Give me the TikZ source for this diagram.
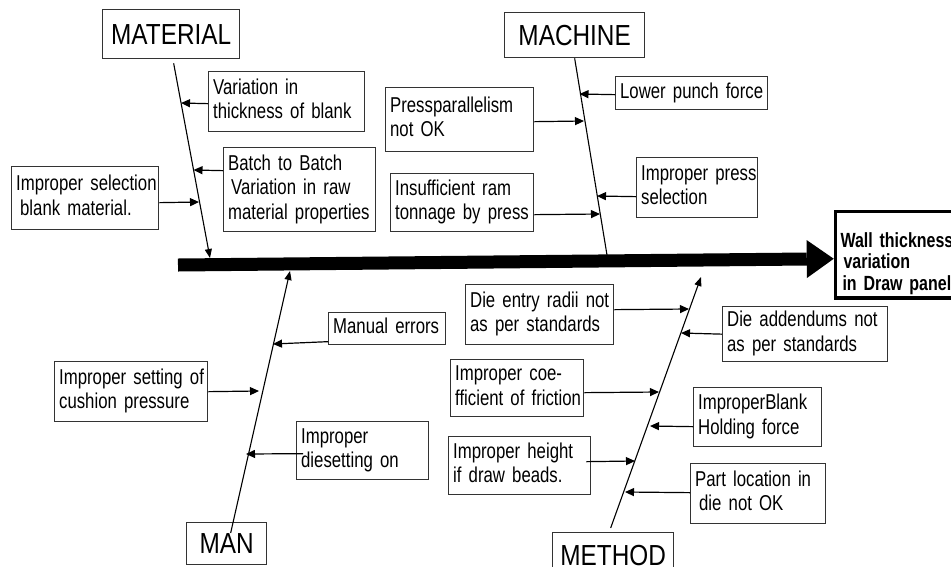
\documentclass[tikz,border=0pt]{standalone}
\usepackage{fontspec}
\usetikzlibrary{arrows.meta}
\newfontfamily\nrw[FakeStretch=0.78]{Liberation Sans}
\newfontfamily\nrwt[FakeStretch=0.84]{Liberation Sans}
\newcommand\cfont{\nrw\fontsize{21.5}{24.5}\selectfont}
\newcommand\tfont{\nrwt\fontsize{29}{34}\selectfont}
\newcommand\efont{\nrw\bfseries\fontsize{20.5}{21.5}\selectfont}
\newcommand\bxt[1]{\begin{tabular}{@{}l@{}}#1\end{tabular}}
\begin{document}
\begin{tikzpicture}[x=1pt,y=-1pt,
  cbox/.style={draw=black!80, line width=1.3pt, anchor=north west, inner xsep=4.5pt, inner ysep=0pt, align=left, font=\cfont},
  tbox/.style={draw=black!80, line width=1.3pt, anchor=north west, inner sep=0pt, font=\tfont},
  effbox/.style={draw=black, line width=3.5pt, anchor=north west, inner xsep=3.5pt, inner ysep=0pt, align=left, font=\efont},
  bone/.style={line width=1.1pt},
  bonearrow/.style={bone, -{Triangle[length=9pt,width=7pt]}},
  ca/.style={line width=1.2pt, -{Triangle[length=9pt,width=8pt]}},
  spine/.style={line width=13pt, -{Triangle[length=27pt,width=38pt,line width=0pt]}}]
\useasboundingbox (0,0) rectangle (951,566);
\fill[white] (0,0) rectangle (951,566);

% category titles
\node[tbox, minimum width=137pt, minimum height=49pt] (MAT) at (102,9) {MATERIAL};
\node[tbox, minimum width=140pt, minimum height=45pt] (MAC) at (504,12) {MACHINE};
\node[tbox, minimum width=80pt, minimum height=42pt] (MAN) at (186,522) {MAN};
\node[tbox, minimum width=121pt, minimum height=45pt] (MET) at (552,532) {METHOD};

% effect
\node[effbox, minimum width=140pt, minimum height=86.5pt, text width=130pt] (EFF) at (833.75,209.75) {\bxt{\rule{0pt}{34pt}Wall thickness\\\hspace*{3pt}variation\\\hspace*{2pt}in Draw panel}};

% cause boxes
\node[cbox, minimum width=156pt, minimum height=60pt, text width=147pt] (mat1) at (208,71) {\bxt{Variation in\\thickness of blank}};
\node[cbox, minimum width=152pt, minimum height=84pt, text width=143pt] (mat2) at (223,147) {\bxt{Batch to Batch\\\hspace*{3pt}Variation in raw\\material properties}};
\node[cbox, minimum width=147pt, minimum height=63pt, text width=138pt] (mat3) at (11,166) {\bxt{Improper selection\\\hspace*{4pt}blank material.}};

\node[cbox, minimum width=152pt, minimum height=33pt, text width=143pt] (mac1) at (615,76) {\bxt{Lower punch force}};
\node[cbox, minimum width=121pt, minimum height=60pt, text width=112pt] (mac2) at (636,157) {\bxt{Improper press\\selection}};
\node[cbox, minimum width=148pt, minimum height=64pt, text width=139pt] (mac3) at (385,87) {\bxt{Pressparallelism\\not OK}};
\node[cbox, minimum width=143pt, minimum height=58pt, text width=134pt] (mac4) at (390,173) {\bxt{Insufficient ram\\tonnage by press}};

\node[cbox, minimum width=117pt, minimum height=32pt, text width=108pt] (man1) at (328,312) {\bxt{Manual errors}};
\node[cbox, minimum width=153pt, minimum height=60pt, text width=144pt] (man2) at (54,361) {\bxt{Improper setting of\\cushion pressure}};
\node[cbox, minimum width=132pt, minimum height=58pt, text width=123pt] (man3) at (296,421) {\bxt{Improper\\diesetting on}};

\node[cbox, minimum width=148pt, minimum height=60pt, text width=139pt] (met1) at (465,284) {\bxt{Die entry radii not\\as per standards}};
\node[cbox, minimum width=165pt, minimum height=55pt, text width=156pt] (met2) at (722,306) {\bxt{Die addendums not\\as per standards}};
\node[cbox, minimum width=133pt, minimum height=57pt, text width=124pt] (met3) at (450,359) {\bxt{Improper coe-\\fficient of friction}};
\node[cbox, minimum width=128pt, minimum height=59pt, text width=119pt] (met4) at (693,387) {\bxt{ImproperBlank\\Holding force}};
\node[cbox, minimum width=142pt, minimum height=58pt, text width=133pt] (met5) at (448,436) {\bxt{Improper height\\if draw beads.}};
\node[cbox, minimum width=135pt, minimum height=60pt, text width=126pt] (met6) at (690,463) {\bxt{Part location in\\\hspace*{4pt}die not OK}};

% spine
\coordinate (sp0) at (178,265);
\draw[spine] (sp0) -- ([yshift=-4pt]EFF.west);

% bones
\coordinate (matTip) at (210,258);
\coordinate (macEnd) at (607,255);
\coordinate (manTip) at (290,271);
\coordinate (metTip) at (701,277);
\draw[bonearrow] ([xshift=2.5pt,yshift=-4pt]MAT.south) -- (matTip);
\draw[bone] (MAC.south) -- (macEnd);
\draw[bonearrow] ([xshift=4pt,yshift=-11pt]MAN.north) -- (manTip);
\draw[bonearrow] ([xshift=-2.5pt,yshift=4pt]MET.north) -- (metTip);

% points on bones
\coordinate (pm1) at (181,103);
\coordinate (pm2) at (193.5,170);
\coordinate (pm3) at (199,202);
\coordinate (pc1) at (579.5,94);
\coordinate (pc2) at (597,196);
\coordinate (pc3) at (584,121);
\coordinate (pc4) at (600,214);
\coordinate (pn1) at (273,344);
\coordinate (pn2) at (259,391);
\coordinate (pn3) at (246,454);
\coordinate (pt1) at (689,309);
\coordinate (pt2) at (681,333);
\coordinate (pt3) at (659,392);
\coordinate (pt4) at (650,426);
\coordinate (pt5) at (635,461);
\coordinate (pt6) at (625,492);

% cause arrows
\draw[ca] ([yshift=-2pt]mat1.west) -- (pm1);
\draw[ca] ([yshift=19pt]mat2.west) -- (pm2);
\draw[ca] ([yshift=-4.5pt]mat3.east) -- (pm3);
\draw[ca] ([yshift=-1.5pt]mac1.west) -- (pc1);
\draw[ca] ([yshift=-9pt]mac2.west) -- (pc2);
\draw[ca] ([yshift=-2pt]mac3.east) -- (pc3);
\draw[ca] ([yshift=-12pt]mac4.east) -- (pc4);
\draw[ca] ([yshift=-13pt]man1.west) -- (pn1);
\draw[ca] (man2.east) -- (pn2);
\draw[ca] ([xshift=7pt,yshift=-3pt]man3.west) -- (pn3);
\draw[ca] ([yshift=5pt]met1.east) -- (pt1);
\draw[ca] (met2.west) -- (pt2);
\draw[ca] ([yshift=-4.5pt]met3.east) -- (pt3);
\draw[ca] ([yshift=-9.5pt]met4.west) -- (pt4);
\draw[ca] ([xshift=-5pt,yshift=4pt]met5.east) -- (pt5);
\draw[ca] ([yshift=1pt]met6.west) -- (pt6);
\end{tikzpicture}
\end{document}
